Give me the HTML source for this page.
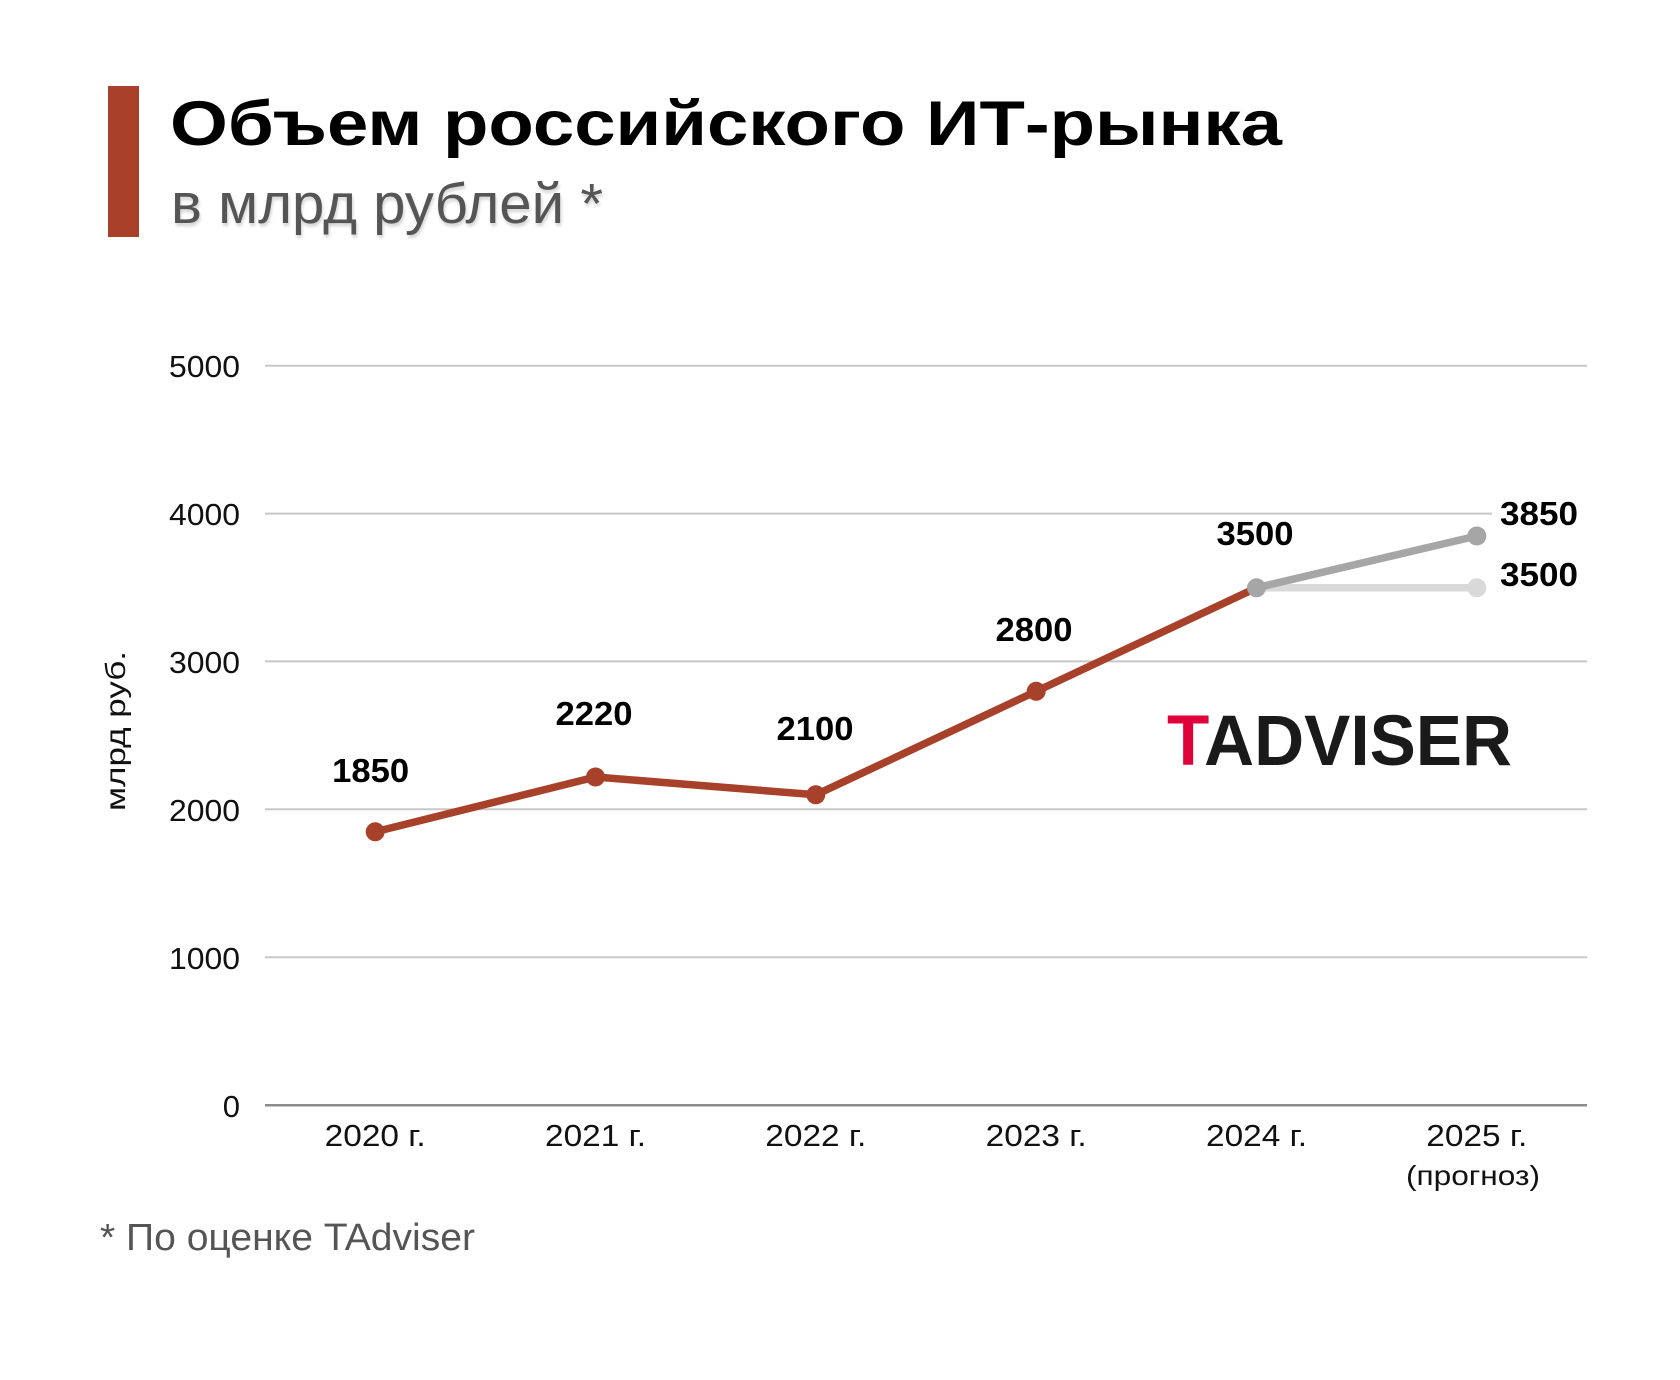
<!DOCTYPE html>
<html>
<head>
<meta charset="utf-8">
<style>
  html, body { margin: 0; padding: 0; background: #ffffff; }
  body { width: 1680px; height: 1380px; overflow: hidden; }
  svg { display: block; }
  text { font-family: "Liberation Sans", "DejaVu Sans", sans-serif; }
</style>
</head>
<body>
<svg width="1680" height="1380" viewBox="0 0 1680 1380" xmlns="http://www.w3.org/2000/svg">
  <rect x="0" y="0" width="1680" height="1380" fill="#ffffff"/>

  <!-- Header -->
  <rect x="108" y="86" width="31" height="151" fill="#a9402a"/>
  <text x="170" y="145" font-size="63" font-weight="bold" fill="#000" textLength="1112" lengthAdjust="spacingAndGlyphs">Объем российского ИТ-рынка</text>
  <text x="171" y="223" font-size="57" fill="#555555" textLength="432" lengthAdjust="spacingAndGlyphs" style="text-shadow: 1px 3px 3px rgba(0,0,0,0.18);">в млрд рублей *</text>

  <!-- Gridlines -->
  <g stroke="#c8c8c8" stroke-width="2">
    <line x1="265" y1="365.7" x2="1587" y2="365.7"/>
    <line x1="265" y1="513.6" x2="1587" y2="513.6"/>
    <line x1="265" y1="661.4" x2="1587" y2="661.4"/>
    <line x1="265" y1="809.3" x2="1587" y2="809.3"/>
    <line x1="265" y1="957.2" x2="1587" y2="957.2"/>
  </g>
  <line x1="265" y1="1105.3" x2="1587" y2="1105.3" stroke="#8c8c8c" stroke-width="2.5"/>

  <!-- Y labels -->
  <g font-size="31" fill="#111" text-anchor="end">
    <text x="240" y="377" textLength="71" lengthAdjust="spacingAndGlyphs">5000</text>
    <text x="240" y="525" textLength="71" lengthAdjust="spacingAndGlyphs">4000</text>
    <text x="240" y="673" textLength="71" lengthAdjust="spacingAndGlyphs">3000</text>
    <text x="240" y="821" textLength="71" lengthAdjust="spacingAndGlyphs">2000</text>
    <text x="240" y="969" textLength="71" lengthAdjust="spacingAndGlyphs">1000</text>
    <text x="240" y="1117">0</text>
  </g>

  <!-- Y axis title -->
  <text transform="translate(125,811) rotate(-90)" font-size="28" fill="#111" textLength="160" lengthAdjust="spacingAndGlyphs">млрд руб.</text>

  <!-- X labels -->
  <g font-size="31" fill="#111" text-anchor="middle">
    <text x="375.2" y="1146" textLength="101" lengthAdjust="spacingAndGlyphs">2020 г.</text>
    <text x="595.5" y="1146" textLength="101" lengthAdjust="spacingAndGlyphs">2021 г.</text>
    <text x="815.8" y="1146" textLength="101" lengthAdjust="spacingAndGlyphs">2022 г.</text>
    <text x="1036.2" y="1146" textLength="101" lengthAdjust="spacingAndGlyphs">2023 г.</text>
    <text x="1256.5" y="1146" textLength="101" lengthAdjust="spacingAndGlyphs">2024 г.</text>
    <text x="1476.8" y="1146" textLength="101" lengthAdjust="spacingAndGlyphs">2025 г.</text>
  </g>
  <text x="1473" y="1185" font-size="28" fill="#111" text-anchor="middle" textLength="134" lengthAdjust="spacingAndGlyphs">(прогноз)</text>

  <!-- TADVISER logo -->
  <text x="1167" y="765" font-size="71" font-weight="bold" textLength="345" lengthAdjust="spacingAndGlyphs"><tspan fill="#e0003a">T</tspan><tspan fill="#1a1a1a">ADVISER</tspan></text>

  <!-- Series -->
  <line x1="1256.5" y1="587.8" x2="1476.8" y2="587.8" stroke="#d9d9d9" stroke-width="7.5" stroke-linecap="round"/>
  <circle cx="1476.8" cy="587.8" r="9.5" fill="#d9d9d9"/>

  <line x1="1256.5" y1="587.8" x2="1476.8" y2="536.0" stroke="#a6a6a6" stroke-width="7.5" stroke-linecap="round"/>
  <circle cx="1476.8" cy="536.0" r="9.5" fill="#a6a6a6"/>

  <polyline points="375.2,831.8 595.5,777.0 815.8,794.8 1036.2,691.3 1256.5,587.8" fill="none" stroke="#a8412a" stroke-width="7.5" stroke-linejoin="round" stroke-linecap="round"/>
  <g fill="#a8412a">
    <circle cx="375.2" cy="831.8" r="9.5"/>
    <circle cx="595.5" cy="777.0" r="9.5"/>
    <circle cx="815.8" cy="794.8" r="9.5"/>
    <circle cx="1036.2" cy="691.3" r="9.5"/>
  </g>
  <circle cx="1256.5" cy="587.8" r="9.5" fill="#a6a6a6"/>

  <!-- Data labels -->
  <rect x="1492" y="494" width="98" height="36" fill="#ffffff"/>
  <g font-size="33" font-weight="bold" fill="#000">
    <text x="370.7" y="782" text-anchor="middle" textLength="77" lengthAdjust="spacingAndGlyphs">1850</text>
    <text x="594" y="725" text-anchor="middle" textLength="77" lengthAdjust="spacingAndGlyphs">2220</text>
    <text x="815" y="740" text-anchor="middle" textLength="77" lengthAdjust="spacingAndGlyphs">2100</text>
    <text x="1034" y="641" text-anchor="middle" textLength="77" lengthAdjust="spacingAndGlyphs">2800</text>
    <text x="1255" y="545" text-anchor="middle" textLength="77" lengthAdjust="spacingAndGlyphs">3500</text>
    <text x="1500" y="525" textLength="78" lengthAdjust="spacingAndGlyphs">3850</text>
    <text x="1500" y="586" textLength="78" lengthAdjust="spacingAndGlyphs">3500</text>
  </g>

  <!-- Footnote -->
  <text x="100" y="1250" font-size="38" fill="#555555" textLength="375" lengthAdjust="spacingAndGlyphs">* По оценке TAdviser</text>
</svg>
</body>
</html>
